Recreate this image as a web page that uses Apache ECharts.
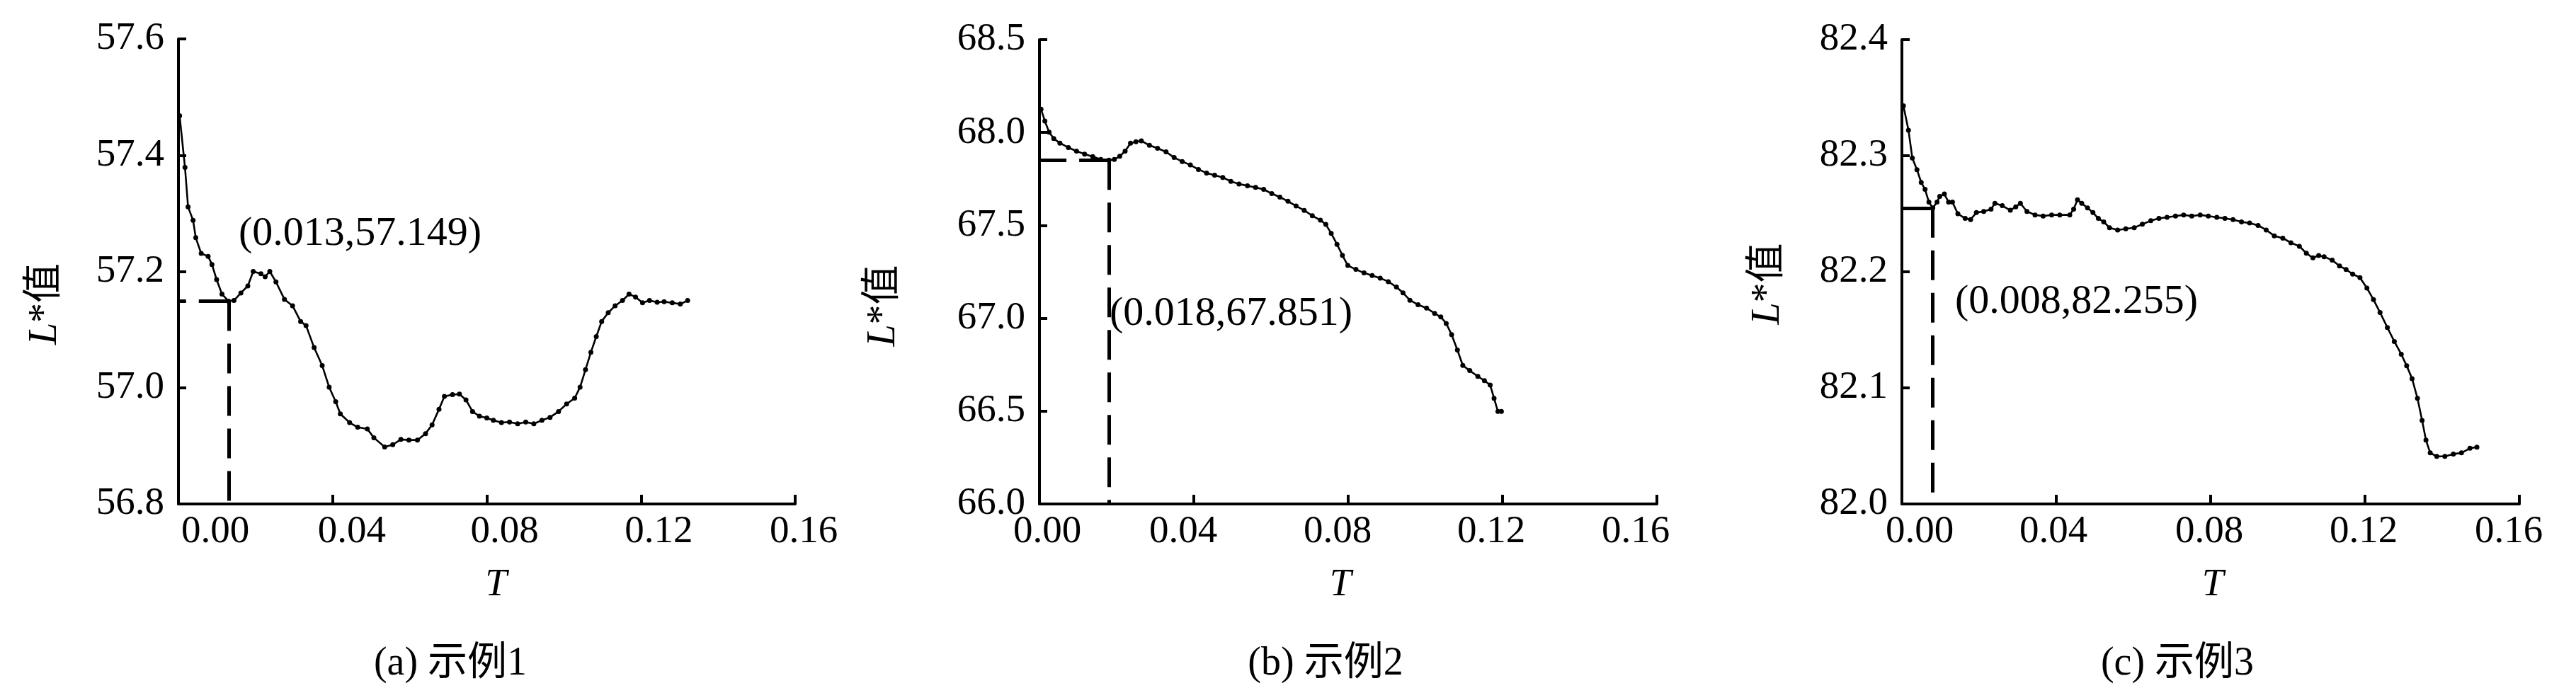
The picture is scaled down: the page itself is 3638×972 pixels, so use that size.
<!DOCTYPE html>
<html><head><meta charset="utf-8">
<script src="https://cdn.jsdelivr.net/npm/echarts@6/dist/echarts.min.js"></script>
<style>html,body{margin:0;padding:0;background:#fff}#c{width:3638px;height:972px}</style>
</head><body><div id="c"></div>
<script>
// ---------- data ----------
const xTicks = [0, 0.04, 0.08, 0.12, 0.16];
const yTicks1 = [56.8, 57.0, 57.2, 57.4, 57.6];
const yTicks2 = [66.0, 66.5, 67.0, 67.5, 68.0, 68.5];
const yTicks3 = [82.0, 82.1, 82.2, 82.3, 82.4];
const captions = ['(a) 示例1', '(b) 示例2', '(c) 示例3'];

const T1 = [0.0003,0.0017,0.0025,0.0038,0.0045,0.0059,0.0077,0.0087,0.0099,0.0113,0.013,0.0144,0.0162,0.018,0.0194,0.0214,0.0225,0.0237,0.0253,0.0275,0.0296,0.0317,0.0331,0.0352,0.0373,0.0391,0.0408,0.042,0.0444,0.0465,0.049,0.0507,0.0535,0.0556,0.0577,0.0598,0.062,0.0641,0.0658,0.0676,0.069,0.0711,0.0729,0.0746,0.0763,0.0781,0.08,0.0817,0.0838,0.0859,0.088,0.0901,0.0922,0.0943,0.0964,0.0986,0.1007,0.1028,0.1042,0.1056,0.107,0.1084,0.1098,0.1115,0.1133,0.1152,0.1169,0.1186,0.1204,0.1222,0.1242,0.126,0.1281,0.1302,0.1321];
const L1 = [57.468,57.379,57.311,57.288,57.258,57.231,57.226,57.212,57.186,57.161,57.149,57.150,57.163,57.175,57.200,57.196,57.191,57.200,57.182,57.152,57.141,57.114,57.107,57.069,57.038,57.001,56.976,56.955,56.940,56.932,56.929,56.914,56.898,56.902,56.911,56.910,56.910,56.921,56.936,56.963,56.985,56.988,56.989,56.979,56.959,56.951,56.948,56.944,56.940,56.941,56.938,56.941,56.938,56.944,56.949,56.959,56.972,56.982,57.001,57.031,57.061,57.088,57.114,57.129,57.141,57.150,57.161,57.156,57.146,57.150,57.147,57.148,57.146,57.144,57.150];

const T2 = [0.0004,0.0014,0.0025,0.0037,0.0053,0.0075,0.0096,0.0117,0.0138,0.0159,0.018,0.0194,0.0208,0.0222,0.0236,0.025,0.0264,0.0285,0.0306,0.0328,0.0349,0.037,0.0391,0.0412,0.0433,0.0454,0.0475,0.0496,0.0517,0.0539,0.056,0.0581,0.0602,0.0623,0.0644,0.0665,0.0686,0.0707,0.0728,0.0742,0.0756,0.0771,0.0785,0.0799,0.082,0.0841,0.0862,0.0883,0.0904,0.0925,0.0942,0.096,0.0981,0.1003,0.1024,0.104,0.1054,0.1068,0.1083,0.1097,0.1115,0.1136,0.1153,0.1168,0.1178,0.1188,0.1197];
const L2 = [68.126,68.062,68.002,67.967,67.943,67.919,67.900,67.884,67.870,67.855,67.851,67.855,67.872,67.900,67.943,67.950,67.955,67.931,67.915,67.896,67.865,67.844,67.825,67.801,67.782,67.770,67.758,67.737,67.723,67.713,67.704,67.694,67.671,67.652,67.630,67.604,67.581,67.552,67.528,67.505,67.457,67.398,67.339,67.284,67.263,67.244,67.230,67.216,67.197,67.168,67.137,67.097,67.073,67.055,67.026,67.007,66.972,66.912,66.829,66.746,66.718,66.687,66.664,66.640,66.569,66.498,66.498];

const T3 = [0.0004,0.0017,0.0027,0.0039,0.005,0.006,0.007,0.008,0.0091,0.0098,0.011,0.0121,0.0131,0.0145,0.0164,0.0178,0.0193,0.0212,0.0231,0.0241,0.026,0.0281,0.0295,0.0307,0.0324,0.0345,0.0366,0.0388,0.0409,0.0435,0.0445,0.0455,0.0466,0.0481,0.0495,0.0509,0.0523,0.0538,0.0559,0.058,0.0602,0.0623,0.0645,0.0666,0.0687,0.0709,0.073,0.0751,0.0773,0.0794,0.0816,0.0837,0.0858,0.088,0.0901,0.0923,0.0944,0.0965,0.0987,0.1008,0.103,0.1048,0.1065,0.108,0.1094,0.1115,0.1134,0.1151,0.1168,0.1187,0.1205,0.1222,0.1239,0.1258,0.1276,0.1294,0.1308,0.1322,0.1336,0.1348,0.1358,0.1369,0.1386,0.1407,0.1429,0.145,0.1472,0.149];
const L3 = [82.343,82.322,82.298,82.288,82.277,82.271,82.260,82.255,82.260,82.265,82.267,82.260,82.260,82.250,82.246,82.245,82.251,82.252,82.254,82.259,82.257,82.253,82.256,82.259,82.252,82.249,82.248,82.249,82.249,82.249,82.254,82.262,82.259,82.255,82.251,82.246,82.243,82.238,82.236,82.237,82.238,82.241,82.244,82.246,82.247,82.248,82.249,82.248,82.249,82.248,82.247,82.246,82.245,82.243,82.242,82.240,82.236,82.231,82.229,82.225,82.222,82.216,82.212,82.214,82.213,82.210,82.205,82.202,82.198,82.195,82.186,82.176,82.165,82.152,82.140,82.129,82.119,82.108,82.091,82.072,82.055,82.044,82.041,82.041,82.043,82.044,82.048,82.049];

const mark1 = [0.013, 57.149];
const mark2 = [0.018, 67.851];
const mark3 = [0.008, 82.255];

// ---------- layout / style ----------
const SERIF = "'Liberation Serif', 'Times New Roman', serif";
const MIXED = "'Liberation Serif', 'Noto Sans CJK SC', serif";
const panels = [
  {T: T1, L: L1, yT: yTicks1, mark: mark1, grid: {left: 252, top: 55, width: 871, height: 657},
   xOff: [52, 27, 25, 25, 12], nameGap: 160, nameShift: 46, tShift: 13, cap: 636, ann: [337, 331]},
  {T: T2, L: L2, yT: yTicks2, mark: mark2, grid: {left: 1468, top: 56, width: 872, height: 656},
   xOff: [11, -15, -15, -16, -30], nameGap: 192, nameShift: 48, tShift: -11, cap: 1872, ann: [1567, 444]},
  {T: T3, L: L3, yT: yTicks3, mark: mark3, grid: {left: 2686, top: 56, width: 872, height: 656},
   xOff: [25, -4, -2, -2, -15], nameGap: 161, nameShift: 17, tShift: 3, cap: 3075, ann: [2761, 427]}
];
const FS = 55;
const CAP_Y = 938;

const option = {animation: false, backgroundColor: '#fff', grid: [], xAxis: [], yAxis: [], series: [], graphic: []};

panels.forEach((p, k) => {
  option.grid.push(Object.assign({containLabel: false}, p.grid));
  const rich = {};
  p.xOff.forEach((d, i) => {
    rich['p' + i] = {fontSize: FS, fontFamily: SERIF, color: '#000',
      padding: [0, d < 0 ? -2 * d : 0, 0, d > 0 ? 2 * d : 0]};
  });
  const xStep = xTicks[1] - xTicks[0];
  option.xAxis.push({
    type: 'value', gridIndex: k, min: xTicks[0], max: xTicks[xTicks.length - 1], interval: xStep,
    splitLine: {show: false},
    axisLine: {show: true, onZero: false, lineStyle: {color: '#000', width: 4}},
    axisTick: {show: true, inside: true, length: 13, lineStyle: {color: '#000', width: 4}},
    axisLabel: {margin: 12, rich: rich,
      formatter: v => '{p' + Math.round(v / xStep) + '|' + v.toFixed(2) + '}'},
    name: '{i|T}', nameLocation: 'middle', nameGap: 87,
    nameTextStyle: {
      padding: [0, p.tShift < 0 ? -2 * p.tShift : 0, 0, p.tShift > 0 ? 2 * p.tShift : 0],
      rich: {i: {fontSize: FS, fontFamily: SERIF, fontStyle: 'italic', color: '#000'}}}
  });
  const yStep = +(p.yT[1] - p.yT[0]).toFixed(6);
  option.yAxis.push({
    type: 'value', gridIndex: k, min: p.yT[0], max: p.yT[p.yT.length - 1], interval: yStep,
    splitLine: {show: false},
    axisLine: {show: true, onZero: false, lineStyle: {color: '#000', width: 4}},
    axisTick: {show: true, inside: true, length: 11, lineStyle: {color: '#000', width: 4}},
    axisLabel: {margin: 20, fontSize: FS, fontFamily: SERIF, color: '#000',
      formatter: v => v.toFixed(1)},
    name: '{i|L}{n|*值}', nameLocation: 'middle', nameRotate: 90, nameGap: p.nameGap,
    nameTextStyle: {
      padding: [0, 2 * p.nameShift, 0, 0],
      rich: {
        i: {fontSize: 56, fontFamily: SERIF, fontStyle: 'italic', color: '#000'},
        n: {fontSize: 56, fontFamily: MIXED, color: '#000'}
      }}
  });
  const yMin = p.yT[0];
  option.series.push({
    type: 'line', xAxisIndex: k, yAxisIndex: k,
    data: p.T.map((t, i) => [t, p.L[i]]),
    symbol: 'circle', symbolSize: 7, showSymbol: true,
    lineStyle: {color: '#000', width: 2.6},
    itemStyle: {color: '#000'},
    markLine: {
      silent: true, symbol: ['none', 'none'], label: {show: false},
      lineStyle: {color: '#000', width: 5, type: [42, 18]},
      emphasis: {disabled: true},
      data: [
        [{coord: [p.mark[0], p.mark[1]]}, {coord: [xTicks[0], p.mark[1]]}],
        [{coord: [p.mark[0], p.mark[1]]}, {coord: [p.mark[0], yMin]}]
      ]
    }
  });
  option.graphic.push({
    type: 'text', x: p.ann[0], y: p.ann[1],
    style: {text: '(' + p.mark[0].toFixed(3) + ',' + p.mark[1].toFixed(3) + ')',
      fontSize: 58, fontFamily: SERIF, fill: '#000', align: 'left', verticalAlign: 'middle'}
  });
  option.graphic.push({
    type: 'text', x: p.cap, y: CAP_Y,
    style: {text: captions[k], fontSize: 56, fontFamily: MIXED, fill: '#000',
      align: 'center', verticalAlign: 'middle'}
  });
});

const chart = echarts.init(document.getElementById('c'), null, {renderer: 'canvas'});
chart.setOption(option);
</script></body></html>
